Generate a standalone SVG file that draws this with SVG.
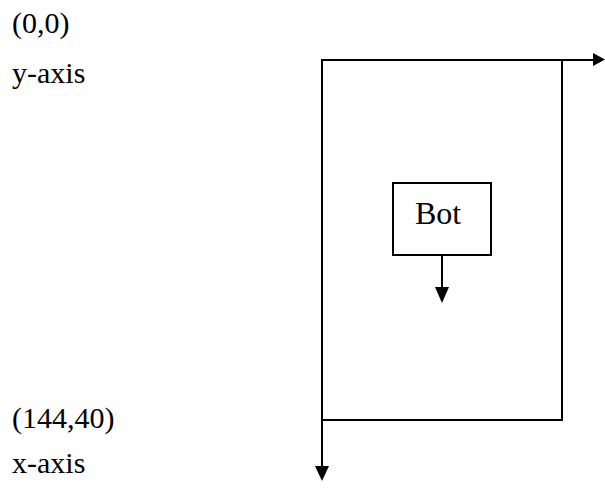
<svg xmlns="http://www.w3.org/2000/svg" width="605" height="489" viewBox="0 0 605 489">
  <style>
    .lbl { font-family: "Liberation Serif", "Times New Roman", serif; font-size: 30px; fill: #000; }
    .big { font-size: 32px; }
    .ln { stroke: #000; stroke-width: 2; fill: none; }
    .box { stroke: #000; stroke-width: 2; fill: #fff; }
    .head { fill: #000; stroke: none; }
  </style>
  <rect width="605" height="489" fill="#fff"/>

  <!-- coordinate labels -->
  <g id="labels">
    <text class="lbl" x="12" y="33">(0,0)</text>
    <text class="lbl" x="12" y="83">y-axis</text>
    <text class="lbl" x="12" y="428">(144,40)</text>
    <text class="lbl" x="12" y="473">x-axis</text>
  </g>

  <!-- arena boundary -->
  <g id="arena">
    <path class="ln" d="M562,60 V420 H322"/>
  </g>

  <!-- axes and heading arrow -->
  <g id="connectors">
    <path class="ln" d="M322,61 V60 H594"/>
    <polygon class="head" points="593,53 605,59.5 593,66"/>
    <path class="ln" d="M322,60 V468"/>
    <polygon class="head" points="315,466 329,466 322,481"/>
    <path class="ln" d="M442,255 V288"/>
    <polygon class="head" points="435,287 449,287 442,303"/>
  </g>

  <!-- robot -->
  <g id="bot">
    <rect class="box" x="393" y="183" width="98" height="72"/>
    <text class="lbl big" x="415" y="224">Bot</text>
  </g>
</svg>
